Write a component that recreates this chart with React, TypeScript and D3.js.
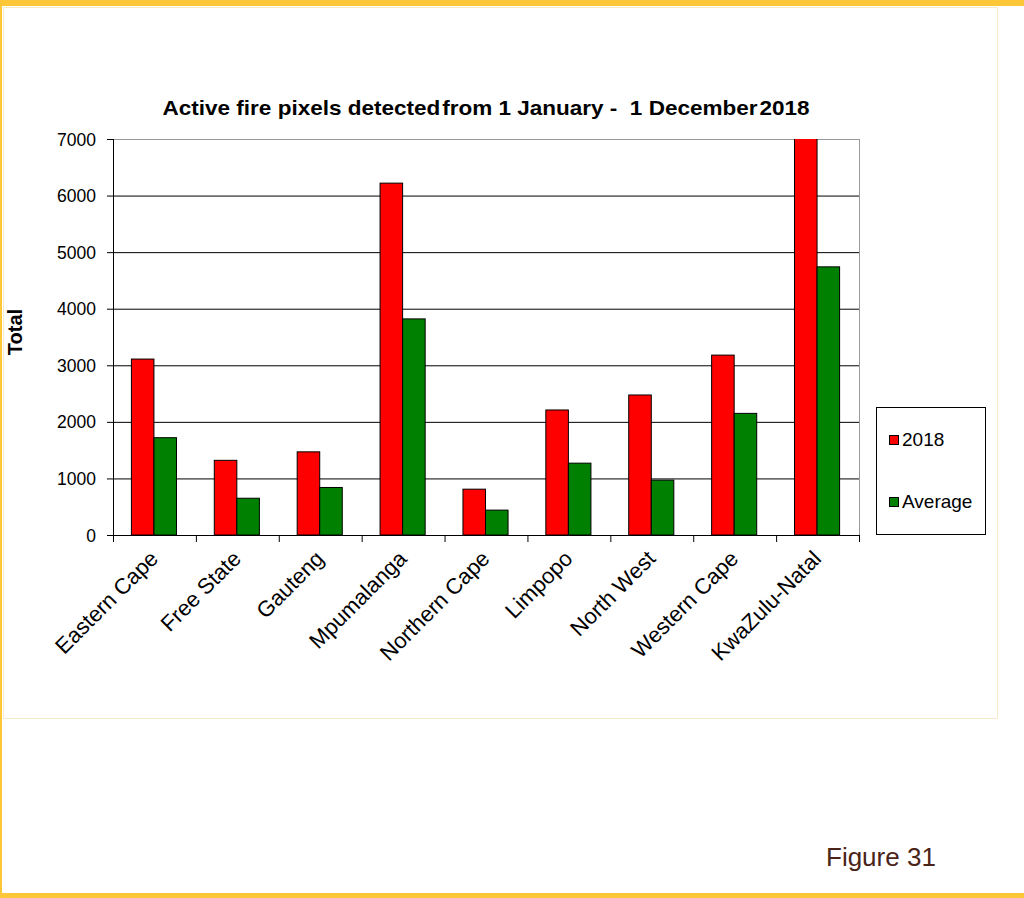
import React from "react";
import * as d3 from "d3";

const categories = ["Eastern Cape", "Free State", "Gauteng", "Mpumalanga", "Northern Cape", "Limpopo", "North West", "Western Cape", "KwaZulu-Natal"];
const values2018 = [3110, 1320, 1470, 6220, 810, 2210, 2475, 3180, 7600];
const valuesAverage = [1720, 650, 840, 3820, 440, 1270, 970, 2150, 4740];
const yTicks = [0, 1000, 2000, 3000, 4000, 5000, 6000, 7000];
const seriesNames = ["2018", "Average"];
const seriesColors = ["#ff0000", "#008000"];
const titleText = "Active fire pixels detected\u200Afrom 1 January -\u00A0 1 December\u200A2018";

export default function App() {
  const W = 1024, H = 898;
  const left = 113, right = 859, top = 139, bottom = 535;
  const x = d3.scaleBand<string>().domain(categories).range([left, right]).paddingInner(0).paddingOuter(0);
  const y = d3.scaleLinear().domain([0, 7000]).range([bottom, top]);
  const bw = x.bandwidth();
  const barW = bw * 0.272;
  const series = [values2018, valuesAverage];
  const font = "Arial, 'Liberation Sans', sans-serif";
  return (
    <svg width={W} height={H} style={{ position: "absolute", left: 0, top: 0, display: "block" }} fontFamily={font}>
      <rect x={0} y={0} width={W} height={H} fill="#ffffff" />
      <rect x={0} y={0} width={W} height={6} fill="#fdc738" />
      <rect x={0} y={0} width={2} height={H} fill="#fdc738" />
      <rect x={0} y={893} width={W} height={5} fill="#fdc738" />
      <rect x={3.5} y={7.5} width={994} height={711} fill="#ffffff" stroke="#f7ecc8" strokeWidth={1} />
      <defs>
        <clipPath id="plotclip">
          <rect x={left} y={top} width={right - left} height={bottom - top} />
        </clipPath>
      </defs>
      {yTicks.filter(t => t > 0).map(t => (
        <line key={t} x1={left} x2={right} y1={y(t) + 0.5} y2={y(t) + 0.5} stroke="#000" strokeWidth={1} />
      ))}
      <line x1={right + 0.5} x2={right + 0.5} y1={top} y2={bottom} stroke="#999" strokeWidth={1} />
      <line x1={left} x2={right} y1={top + 0.5} y2={top + 0.5} stroke="#999" strokeWidth={1} />
      <g clipPath="url(#plotclip)">
        {categories.map((c, i) => {
          const groupStart = (x(c) as number) + (bw - 2 * barW) / 2 - 0.5;
          return series.map((s, k) => (
            <rect key={c + k} x={groupStart + k * barW} y={y(s[i])} width={barW} height={bottom - y(s[i])}
              fill={seriesColors[k]} stroke="#000" strokeWidth={1} />
          ));
        })}
      </g>
      <line x1={left + 0.5} x2={left + 0.5} y1={top} y2={bottom} stroke="#000" strokeWidth={1} />
      <line x1={left} x2={right + 1} y1={bottom + 0.5} y2={bottom + 0.5} stroke="#000" strokeWidth={1} />
      {yTicks.map(t => (
        <g key={"yt" + t}>
          <line x1={left - 6} x2={left} y1={y(t) + 0.5} y2={y(t) + 0.5} stroke="#000" />
          <text x={96} y={y(t) + 6.5} textAnchor="end" fontSize={17.5} fill="#000">{t}</text>
        </g>
      ))}
      {categories.map(c => (
        <line key={"xt" + c} x1={(x(c) as number) + 0.5} x2={(x(c) as number) + 0.5} y1={bottom} y2={bottom + 7} stroke="#000" />
      ))}
      <line x1={right + 0.5} x2={right + 0.5} y1={bottom} y2={bottom + 7} stroke="#000" />
      {categories.map(c => {
        const cx = (x(c) as number) + bw / 2 + 5;
        const cy = bottom + 25;
        return (
          <text key={"xl" + c} x={cx} y={cy} textAnchor="end" fontSize={22} fill="#000"
            transform={`rotate(-45, ${cx}, ${cy})`}>{c}</text>
        );
      })}
      <text x={486} y={115} textAnchor="middle" fontSize={21} fontWeight="bold" fill="#000"
        textLength={647} lengthAdjust="spacingAndGlyphs" style={{ whiteSpace: "pre" }}>
        {titleText}
      </text>
      <text x={0} y={0} transform={`translate(22, 332) rotate(-90)`} textAnchor="middle" fontSize={20} fontWeight="bold" fill="#000">Total</text>
      <rect x={876.5} y={407.5} width={109} height={127} fill="#fff" stroke="#000" strokeWidth={1} />
      {seriesNames.map((n, k) => (
        <g key={n}>
          <rect x={889.5} y={435.5 + k * 62} width={9} height={9} fill={seriesColors[k]} stroke="#000" />
          <text x={902} y={446 + k * 62} fontSize={19} fill="#000">{n}</text>
        </g>
      ))}
      <text x={826} y={866} fontSize={26} fill="#4a2418">Figure 31</text>
    </svg>
  );
}
